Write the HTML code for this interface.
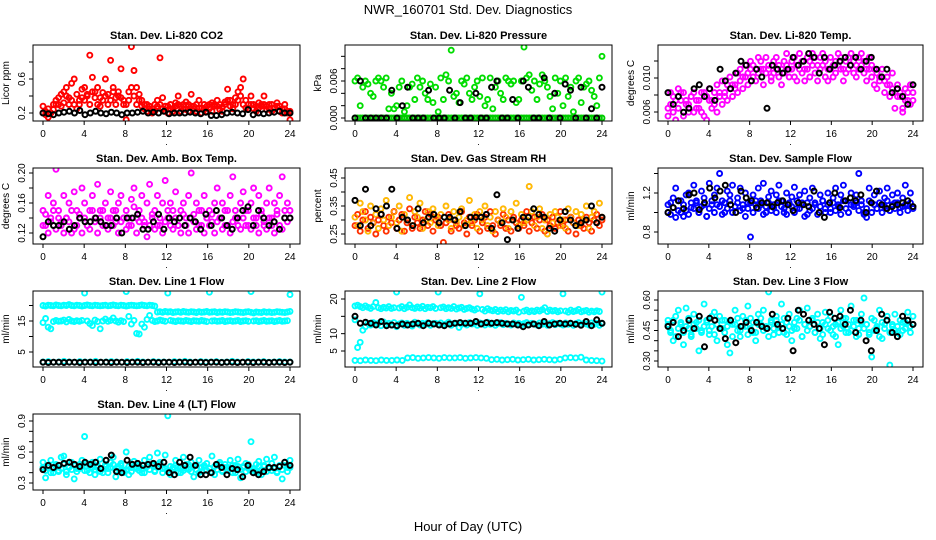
<!DOCTYPE html>
<html><head><meta charset="utf-8"><style>
html,body{margin:0;padding:0;background:#fff;}
svg{display:block;font-family:"Liberation Sans",sans-serif;}
</style></head><body>
<svg id="chart" width="936" height="540" viewBox="0 0 936 540" xmlns="http://www.w3.org/2000/svg">
<text x="468" y="14" text-anchor="middle" font-size="13">NWR_160701  Std. Dev. Diagnostics</text>
<text x="468" y="531" text-anchor="middle" font-size="13">Hour of Day (UTC)</text>
</svg>
<script>
const co2A=[.28,.22,.25,.2,.24,.3,.38,.42,.45,.5,.38,.55,.6,.42,.35,.48,.5,.4,.88,.62,.45,.5,.38,.44,.6,.42,.82,.5,.38,.45,.72,.35,.3,.45,.98,.7,.5,.42,.35,.3,.3,.28,.25,.3,.35,.85,.38,.28,.28,.3,.25,.32,.4,.28,.3,.33,.3,.42,.28,.3,.35,.26,.3,.28,.3,.32,.28,.35,.3,.27,.33,.48,.35,.3,.38,.45,.5,.6,.35,.3,.4,.3,.28,.32,.3,.4,.28,.3,.3,.26,.32,.28,.25,.3,.22,.12];
const co2B=[.2,.18,.15,.2,.3,.35,.3,.28,.32,.4,.3,.35,.3,.25,.3,.38,.35,.42,.3,.45,.38,.3,.28,.35,.4,.3,.35,.45,.3,.4,.38,.3,.12,.35,.5,.4,.3,.35,.28,.25,.22,.25,.2,.22,.28,.3,.25,.22,.2,.25,.22,.28,.3,.22,.25,.24,.22,.28,.25,.22,.26,.2,.24,.22,.25,.22,.3,.28,.24,.22,.3,.35,.28,.25,.3,.35,.4,.3,.26,.25,.3,.25,.22,.26,.28,.3,.24,.25,.22,.25,.28,.22,.2,.25,.2,.22];
const co2K=[.2,.19,.18,.2,.21,.22,.2,.23,.18,.2,.22,.2,.19,.21,.2,.18,.2,.2,.21,.22,.2,.21,.2,.22,.19,.2,.2,.2,.21,.2,.19,.21,.17,.17,.18,.2,.21,.2,.19,.24,.18,.2,.19,.2,.21,.22,.2,.2];
const presA=[6,6.5,2,5,6,5.5,4,3.5,6,6.5,6,5,6.5,1.5,4,1.5,2,5,6,1,2,5,5.5,3,6.5,5,6,4,3,5.5,2.5,5,1,6.5,3,7,6,11,3.5,4,2.5,6,5.5,6.5,4,3,5,6,3.5,6.5,2,3,6.5,1.5,5,6,4,3,6.5,6,5.5,6,2.5,3,6,11.5,6.5,7,4.5,6,3,5.5,7,6,5,3.5,1.5,6.5,4,6,2,6.5,3.5,5,1,6,6.5,2.5,5,5.5,6,4.5,3.5,2,6.5,10];
const presB=[0,0,0,0,0,0,0,0,0,0,0,0,0,0,0,0,0,0,0,0,0,0,0,0,0,0,0,0,0,0,0,0,0,0,0,0,0,0,0,0,0,0,0,0,0,0,0,0,0,0,0,0,0,0,0,0,0,0,0,0,0,0,0,0,0,0,0,0,0,0,0,0,0,0,0,0,0,0,0,0,0,0,0,0,0,0,0,0,0,0,0,0,0,0,0,0];
const presK=[0,6,0,0,0,0,0,4.5,0,2,5,0,0,0,4.5,0,0,0,4.5,0,2.5,0,0,4,0,0,5,6,0,0,3,0,6,5,0,0,6.5,0,4,0,5.5,4.5,0,5,0,1.5,0,5];
const tempA=[7,9,6.5,8,9.5,8,9,7.5,6.5,8.5,9,7,8,6.5,9,8.5,9.5,8,7.5,10,9,10.5,8.5,10,11,10,9.5,11.5,12,11,12.5,11.5,13,12.5,12,13.5,13,12,13.5,12.5,11,13,13.5,12.5,12,13,14,12,13,13.5,12.5,14,13,12,13.5,13,14,13.5,12.5,13.5,14,13,12,13.5,12.5,13,14,13.5,12,13,13.5,14,13,12.5,13.5,14,13,12,13.5,12.5,12,11.5,11,12,10.5,11,10,11.5,9,10,8.5,7,9.5,8,10,9];
const tempB=[6,7.5,8.5,5.5,7,9,6,8,7.5,5,6.5,8,7,9,6,5.5,8,7,9,6.5,8.5,7.5,9,8,9.5,8.5,10,9,10.5,9.5,11,10,12,11,10.5,11.5,12,10,11.5,12,10.5,11.5,12,11,10,11.5,12.5,11,12,11,10.5,12,11.5,10.5,12,11,12.5,11.5,10.5,12,12.5,11,10.5,12,11,11.5,12.5,12,10.5,11.5,12,12.5,11.5,11,12,12.5,11.5,10.5,12,11,10,9.5,10.5,11,9,10,8.5,9.5,7,8.5,9,6.5,8,9,7.5,8];
const tempK=[9,7.5,8.5,6.5,7,9.5,10,8.5,9.5,8,12,10.5,9.5,11.5,13,12.5,10.5,12,11,7,12.5,12,11.5,12,13.5,12.5,13,14,13.5,11.5,13.5,12,12.5,13,13.5,12.5,13.5,12,13,13.5,12,11,12,9,9.5,8.5,7.5,10];
const ambA=[15,13,17,14,16,20.5,15,13.5,17,14,16,12,17.5,15,14,18,16,13,15,17,14,18.5,15,13,16,14,17.5,15,13.5,16,17,14,15,13,16.5,18,14,15,17,13.5,16,18.5,14,15,17,13,16,19,14,16,15,17.5,13,15,16,14,17,20,14.5,16,13,15,17,14,15,13.5,16,18,14,16,15,13,17,19.5,15,14,16,17.5,13,15,16,18,14,17,15,13.5,16,18,14,16,15,17,19.5,14,16,15];
const ambB=[13,14.5,12,13.5,15,12.5,14,13,12,14,13.5,15,12.5,13,14.5,12,14,13,12.5,15,13.5,12,14,15,13,12.5,14,13,15,12,13.5,14,12.5,14,13,15.5,12,13.5,14,13,11.5,13,14.5,12.5,13,14,12,13.5,15,13,12.5,14,13,12,14.5,13,12,14,13.5,12.5,15,13,12,14,13,14.5,12,13.5,14,12.5,13,15,12,13.5,14,13,12.5,14,15,13,12.5,14,13,12,14.5,13,12.5,14,13,12,14.5,13,12.5,15,13.5,14];
const ambK=[11.5,13.5,13,13,13.5,12.5,13,14,13.5,13.5,14,13.5,13,13,14,12,14,14,14.5,12.5,12.5,13.5,14.5,12.5,14,13.5,14,13,14,13.5,12.5,14.5,13,15,14,13,12.5,14,15,15.5,13,15,14,13,13.5,12.5,14,14];
const rhA=[31,28,36,33,30,26,35,29,32,27,34,30,37,28,31,33,29,35,26,32,30,38,28,33,31,36,27,30,33,29,34,31,28,32,20,35,30,27,33,29,31,34,28,30,37,29,32,27,33,30,35,28,31,26,33,30,29,34,31,27,33,30,36,28,32,29,30,42,33,28,31,34,27,30,25,32,29,33,31,28,30,27,34,31,29,33,28,32,30,35,27,31,33,29,36,31];
const rhB=[28,32,26,30,33,27,31,29,25,30,32,28,26,31,29,33,27,30,32,26,29,34,27,31,29,27,30,33,28,32,26,30,31,28,22,29,32,26,30,28,27,33,29,25,31,28,30,32,26,29,31,27,33,28,25,30,28,32,27,30,26,31,29,27,30,28,33,26,29,31,27,30,32,26,30,28,31,27,29,33,28,30,26,31,29,25,30,28,27,31,29,26,30,32,28,30];
const rhK=[37,28,41,28,34,32,35,41,27,31,30,28,34,29,31,32,29,31,31,30,33,28,31,31,31,32,27,39,29,23,30,27,31,31,34,32,31,27,26,30,33,30,28,29,30,35,29,31];
const flowA=[108,98,115,125,102,112,96,118,120,105,128,110,100,122,115,96,130,108,118,125,140,112,100,122,118,128,106,115,125,104,120,110,75,118,112,125,108,130,100,116,122,105,118,128,112,100,120,108,116,126,104,118,110,122,98,115,125,108,62,118,112,104,120,100,115,125,108,118,128,112,100,120,108,118,140,112,100,95,125,110,118,104,122,108,115,125,102,118,110,120,105,115,128,108,120,62];
const flowB=[100,110,105,95,112,100,108,102,98,110,104,112,100,106,108,96,104,112,100,108,106,98,110,104,112,100,106,110,102,108,96,104,110,100,108,104,112,98,106,110,102,108,100,112,106,104,98,110,106,100,112,104,108,96,110,102,104,110,98,106,112,100,108,104,110,102,106,98,112,104,100,108,106,110,102,108,98,104,112,100,108,104,110,100,106,112,102,108,104,110,100,106,108,102,110,104];
const flowK=[100,105,112,104,118,120,103,110,125,115,122,128,108,100,122,115,112,105,110,110,106,110,112,108,102,110,108,106,122,100,95,110,120,105,112,115,112,118,100,110,122,108,104,106,108,110,112,106];
const l1Top=[20,19.8,20.1,20,19.9,20.2,20,19.9,20.1,20,20.3,20,19.9,20.1,20,19.8,20,20.2,20,19.9,20.1,20,19.9,20,20.1,19.9,20,20.2,20,19.9,20.1,20,19.8,20,20.1,20,19.9,20,20.2,20,19.9,20.1,20,19.8,17.9,18,17.8,18.1,17.9,18,17.7,17.9,18,17.8,18.1,17.9,17.8,18,17.9,17.7,18,17.8,17.9,18.1,17.8,17.9,18,17.7,17.9,17.8,18,17.9,17.7,17.8,18,17.9,17.8,17.7,17.9,18,17.8,17.6,17.9,17.8,17.7,18,17.8,17.9,17.7,17.8,18,17.9,17.8,17.7,17.9,18.1];
const l1Mid=[14.5,15.8,13,12.5,14.8,15.2,14.9,15,15.3,14.7,15.5,15,14.8,15.1,14.9,15.2,24,15,14.2,13.5,15.3,14.8,12.5,15,15.6,14.9,15.2,16,15,14.6,15.1,14.8,24.5,16.5,14,15.2,11,10.8,14,13,15.5,16.8,15.2,14.8,15,15.3,15.1,14.9,24,15.2,15,14.8,15.1,15,14.9,15.2,15,14.8,15.1,15,14.9,15.2,15,14.8,24.3,15,15.1,14.9,15,15.2,14.8,15,15.1,14.9,15,15.2,14.8,15,15.1,14.9,24.5,15,15.1,14.8,15,15.2,14.9,15,15.1,14.8,15,15.2,14.9,15,15.1,23.5];
const l1Low=[1.8,1.9,1.7,1.8,2,1.8,1.7,1.9,1.8,1.8,2,1.7,1.8,1.9,1.8,1.7,1.9,1.8,2,1.8,1.7,1.9,1.8,1.8,1.7,1.9,1.8,2,1.8,1.7,1.9,1.8,1.8,1.9,1.7,1.8,2,1.8,1.7,1.9,1.8,1.8,1.9,1.7,1.8,1.9,1.8,1.8];
const l1K=[1.7,1.6,1.7,1.7,1.6,1.7,1.7,1.6,1.7,1.7,1.6,1.7,1.7,1.6,1.7,1.7,1.6,1.7,1.7,1.6,1.7,1.7,1.6,1.7,1.7,1.6,1.7,1.7,1.6,1.7,1.7,1.6,1.7,1.7,1.6,1.7,1.7,1.6,1.7,1.7,1.6,1.7,1.7,1.6,1.7,1.7,1.6,1.7];
const l2Top=[18,18.2,17.8,17.5,18,17.6,17.3,17.8,19,17.5,17.2,17.6,17.4,17.8,17.3,17.5,22,17.4,17.8,17.2,17.6,18.3,17.5,17.3,17.7,17.4,17.9,17.2,17.6,17.5,17.8,17.3,22,17.5,17.7,17.2,17.5,17.3,17.8,17.1,17.4,17.6,17,17.3,17.5,17.1,16.8,17.2,21.5,17,16.5,17.2,16.8,16.6,17,16.4,16.8,16.5,16.9,16.3,16.7,16.5,16.8,16.2,20.5,16.5,16.8,16.3,16.6,16.4,16.8,16.5,16.9,17.5,16.4,16.8,16.5,16.7,16.3,16.6,21.5,16.5,16.2,16.8,16.4,16.6,17,16.3,16.5,16.7,16.2,16.5,16.3,16.6,16.4,22];
const l2Mid=[14,6,7.5,11,12,13,12.5,13.2,12.8,13,12.3,13.4,12.7,13,12.5,13.2,12,12.8,13.1,12.4,13,12.7,12.2,13.3,12.9,12.5,13,12.7,13.2,12.4,12.9,13,12.6,13.1,12.5,12.8,13.3,12.4,12.9,13,11.8,12.7,13,12.5,13.2,12.8,13,12.4,13.1,12.9,12.5,13.3,12.7,13,12.4,12.9,13.2,12.6,13,12.8,12.5,13.1,12.7,13,12.4,12.9,13.2,12.6,13,12.8,12.5,13.1,12.7,13,12.4,12.9,13.2,12.6,13,12.8,12.5,13.1,12.7,13,12.4,12.9,13.2,12.6,13,12.8,12.5,13.1,12.7,13,12.4,12.9];
const l2Low=[2.3,2.2,2.4,2.3,2.2,2.4,2.3,2.3,2.4,2.3,3,3.1,2.9,3,3.1,3,2.9,3.1,3,3,3.1,2.9,3,3.1,3,2.9,2.5,2.6,2.4,2.5,2.6,2.4,2.5,2.6,2.4,2.5,2.6,2.5,2.4,2.6,3,3.1,3,3.2,2.4,2.3,2.2,2.1];
const l2K=[15,13,13.3,13,12.5,13.5,12.3,12.5,12.3,12.8,12.5,12.8,13,12.3,13,12.8,12.5,12.3,12.8,13,13.2,13,13,13.5,12.8,13.2,13,13.2,13,12.8,12.8,12.5,12,12.5,12.8,12.3,13.5,12.5,12.8,13,12.8,13,12.7,12.4,13.5,12.3,14,13];
const l3A=[50,44,40,52,55,48,38,56,46,42,53,49,35,45,58,50,43,47,54,40,52,46,50,38,34,48,55,45,42,52,47,57,51,44,40,53,48,55,46,64,50,43,52,47,58,44,49,53,40,46,51,55,42,48,56,47,50,44,53,41,49,54,46,52,43,48,38,55,47,51,44,57,50,42,46,53,61,48,43,32,50,46,55,41,48,52,28,47,53,44,50,45,49,54,47,52];
const l3B=[48,45,50,42,46,49,44,47,51,43,48,46,50,44,47,49,45,52,43,48,46,50,44,47,49,42,48,51,45,47,50,43,46,49,44,48,51,45,47,42,49,46,50,44,48,51,43,47,45,49,46,50,42,48,45,47,51,44,49,46,43,48,50,45,47,42,49,46,51,44,48,45,47,50,43,49,46,48,44,51,45,47,42,49,46,50,44,48,45,47,43,49,46,50,44,48];
const l3K=[47,49,42,45,50,46,52,37,51,50,46,41,50,39,47,49,45,49,47,46,53,48,46,51,35,55,53,50,48,46,38,54,51,52,48,55,44,50,40,35,45,53,50,44,42,52,50,48];
const l4A=[50,35,45,52,40,48,42,55,56,38,46,50,34,44,48,52,75,42,47,50,38,45,53,40,48,44,50,55,36,46,49,42,60,38,45,51,44,47,40,52,46,55,48,42,59,50,44,57,95,38,45,52,46,40,55,48,43,50,36,47,52,41,46,49,44,56,38,47,50,42,48,45,52,40,47,53,35,46,49,44,70,42,48,51,38,46,53,44,49,55,41,47,34,50,45,52];
const l4B=[45,42,47,40,44,46,41,44,48,41,45,43,47,41,44,46,42,49,40,45,43,47,41,44,46,40,45,48,42,44,47,40,43,46,41,45,48,42,44,40,46,43,47,41,45,48,40,44,42,46,43,47,40,45,42,44,48,41,46,43,40,45,47,42,44,40,46,43,48,41,45,42,44,47,40,46,43,45,41,48,42,44,40,46,43,47,41,45,42,44,40,46,43,47,41,45];
const l4K=[43,47,45,47,49,50,48,46,50,48,50,44,52,57,41,40,52,48,49,47,48,49,46,50,40,38,50,47,55,47,38,38,40,48,45,38,44,43,36,47,40,38,41,45,45,46,50,47];
const xTicks=[0,4,8,12,16,20,24];

const NS="http://www.w3.org/2000/svg";
const svg=document.getElementById('chart');
function mk(tag,attrs,parent){const e=document.createElementNS(NS,tag);for(const k in attrs)e.setAttribute(k,attrs[k]);(parent||svg).appendChild(e);return e;}
const colX=[33,345,658], rowY=[45,168,291,414], W=[267,267,265], H=76;

const panels=[
 {name:'co2',title:'Stan. Dev. Li-820 CO2',ylab:'Licor ppm',c:0,r:0,cal:[0.2,113,0.6,79],ticks:[0.2,0.4,0.6,0.8],labs:['0.2','','0.6',''],series:[[co2A,1,'#ff0000'],[co2B,1,'#ff0000'],[co2K,1,'#000']]},
 {name:'pressure',title:'Stan. Dev. Li-820 Pressure',ylab:'kPa',c:1,r:0,cal:[0,118,0.006,81],ticks:[0,0.002,0.004,0.006,0.008,0.010],labs:['0.000','','','0.006','',''],series:[[presB,0.001,'#00cc00'],[presA,0.001,'#00dd00'],[presK,0.001,'#000']]},
 {name:'li820-temp',title:'Stan. Dev. Li-820 Temp.',ylab:'degrees C',c:2,r:0,cal:[0.006,112,0.010,78],ticks:[0.006,0.008,0.010,0.012],labs:['0.006','','0.010',''],series:[[tempA,0.00092,'#ff00ff'],[tempB,0.00092,'#ff00ff'],[tempK,0.00092,'#000']]},
 {name:'amb-box-temp',title:'Stan. Dev. Amb. Box Temp.',ylab:'degrees C',c:0,r:1,cal:[0.12,233,0.20,173],ticks:[0.12,0.14,0.16,0.18,0.20],labs:['0.12','','0.16','','0.20'],series:[[ambA,0.01,'#ff00ff'],[ambB,0.01,'#ff00ff'],[ambK,0.01,'#000']]},
 {name:'gas-stream-rh',title:'Stan. Dev. Gas Stream RH',ylab:'percent',c:1,r:1,cal:[0.25,234,0.45,178],ticks:[0.25,0.30,0.35,0.40,0.45],labs:['0.25','','0.35','','0.45'],series:[[rhA,0.01,'#ffa500'],[rhB,0.01,'#ff3000'],[rhA,0.01,'#ffd000',0.7],[rhK,0.01,'#000']]},
 {name:'sample-flow',title:'Stan. Dev. Sample Flow',ylab:'ml/min',c:2,r:1,cal:[0.8,232,1.2,193],ticks:[0.8,1.0,1.2,1.4],labs:['0.8','','1.2',''],series:[[flowA,0.01,'#0000ff'],[flowB,0.01,'#0000ff'],[flowK,0.01,'#000']]},
 {name:'line1-flow',title:'Stan. Dev. Line 1 Flow',ylab:'ml/min',c:0,r:2,cal:[5,352,15,321],ticks:[5,10,15,20],labs:['5','','15',''],series:[[l1Top,1,'#00ffff'],[l1Mid,1,'#00ffff'],[l1Low,1,'#00ffff'],[l1K,1,'#000']]},
 {name:'line2-flow',title:'Stan. Dev. Line 2 Flow',ylab:'ml/min',c:1,r:2,cal:[5,351,20,299],ticks:[5,10,15,20],labs:['5','10','','20'],series:[[l2Top,1,'#00ffff'],[l2Mid,1,'#00ffff'],[l2Low,1,'#00ffff'],[l2K,1,'#000']]},
 {name:'line3-flow',title:'Stan. Dev. Line 3 Flow',ylab:'ml/min',c:2,r:2,cal:[0.30,361,0.60,300],ticks:[0.30,0.35,0.40,0.45,0.50,0.55,0.60],labs:['0.30','','','0.45','','','0.60'],series:[[l3A,0.01,'#00ffff'],[l3B,0.01,'#00ffff'],[l3K,0.01,'#000']]},
 {name:'line4-flow',title:'Stan. Dev. Line 4 (LT) Flow',ylab:'ml/min',c:0,r:3,cal:[0.3,483,0.9,421],ticks:[0.3,0.4,0.5,0.6,0.7,0.8,0.9],labs:['0.3','','','0.6','','','0.9'],series:[[l4A,0.01,'#00ffff'],[l4B,0.01,'#00ffff'],[l4K,0.01,'#000']]}
];

panels.forEach(p=>{
  const L=colX[p.c], T=rowY[p.r], w=W[p.c];
  const g=mk('g',{});
  
  
  const xs=h=>L+10+h*(w-20)/24;
  const [v1,p1,v2,p2]=p.cal;
  const ys=v=>p1+(v-v1)*(p2-p1)/(v2-v1);
  const clip='clip-'+p.name;
  const cp=mk('clipPath',{id:clip},g);
  mk('rect',{x:L,y:T,width:w,height:H},cp);
  const pts=mk('g',{'clip-path':'url(#'+clip+')'},g);
  
  
  p.series.forEach(s=>{
    const [arr,scale,col,sw]=s;
    const n=arr.length;
    const isK=col==='#000';
    arr.forEach((v,i)=>{
      const c=mk('circle',{cx:xs(i*24/(n-1)).toFixed(1),cy:ys(v*scale).toFixed(1),r:2.5,fill:'none',stroke:col,'stroke-width':sw||(isK?2:1.9)},pts);
      
      
    });
  });
  const box=mk('rect',{x:L,y:T,width:w,height:H,fill:'none',stroke:'#000','stroke-width':1},g);
  
  
  const t=mk('text',{x:L+w/2,y:T-6,'text-anchor':'middle','font-size':11,'font-weight':'bold'},g);
  t.textContent=p.title;
  
  
  xTicks.forEach(h=>{
    const x=xs(h);
    mk('line',{x1:x,x2:x,y1:T+H,y2:T+H+4,stroke:'#000'},g);
    const tl=mk('text',{x:x,y:T+H+16,'text-anchor':'middle','font-size':10},g);
    tl.textContent=h;
    
    
  });
  mk('text',{x:L+w/2,y:T+H+24,'text-anchor':'middle','font-size':9},g).textContent='.';
  p.ticks.forEach((v,i)=>{
    const y=ys(v);
    if(y<T-1||y>T+H+1) return;
    mk('line',{x1:L-4,x2:L,y1:y,y2:y,stroke:'#000'},g);
    if(p.labs[i]){
      const yl=mk('text',{x:0,y:0,'text-anchor':'middle','font-size':10,transform:`translate(${L-8},${y}) rotate(-90)`},g);
      yl.textContent=p.labs[i];
      
      
    }
  });
  const ya=mk('text',{x:0,y:0,'text-anchor':'middle','font-size':10,transform:`translate(${L-24},${T+H/2}) rotate(-90)`},g);
  ya.textContent=p.ylab;
  
  
});
</script>
</body></html>
